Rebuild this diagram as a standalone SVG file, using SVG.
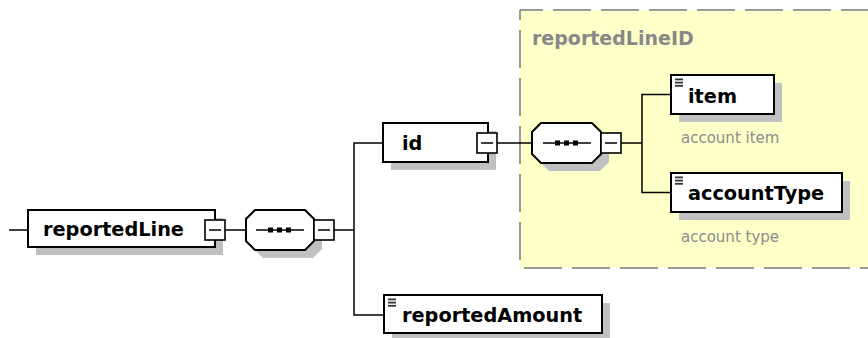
<svg xmlns="http://www.w3.org/2000/svg" width="868" height="338" viewBox="0 0 868 338">
<style>
.box{fill:#fff;stroke:#000;stroke-width:2}
.sh{fill:#c0c0c0}
.conn{stroke:#000;stroke-width:1.5;fill:none}
.name{font-family:"DejaVu Sans",Verdana,sans-serif;font-weight:bold;font-size:19.3px;fill:#000}
.ann{font-family:"DejaVu Sans",Verdana,sans-serif;font-size:15px;fill:#8c8c8c}
.lbl{font-family:"DejaVu Sans",Verdana,sans-serif;font-weight:bold;font-size:19px;fill:#888}
.mb{fill:#fff;stroke:#000;stroke-width:1.6}
.mg{stroke:#000;stroke-width:1.5}
.dot{fill:#000}
.ic{fill:#333}
.dash{stroke:#999;stroke-width:2;stroke-dasharray:38 10;fill:none}
</style>
<defs>
<g id="icon"><rect x="0" y="0" width="8" height="1.8" class="ic"/><rect x="0" y="3.2" width="8" height="1.8" class="ic"/><rect x="0" y="6.4" width="8" height="1.8" class="ic"/></g>
</defs>

<g id="reportedLineID">
<rect x="520" y="10" width="360" height="258" fill="#FFFFC8"/>
<line x1="520" y1="10" x2="880" y2="10" class="dash" stroke-dashoffset="15"/>
<line x1="520" y1="10" x2="520" y2="268" class="dash" stroke-dashoffset="28"/>
<line x1="520" y1="268" x2="880" y2="268" class="dash" stroke-dashoffset="44"/>
<text x="532" y="45" class="lbl">reportedLineID</text>
</g>

<g id="connectors">
<path class="conn" d="M9,230 H28"/>
<path class="conn" d="M225,230 H246"/>
<path class="conn" d="M334,230 H354"/>
<path class="conn" d="M383,143 H354 V315 H384"/>
<path class="conn" d="M497,143 H532"/>
<path class="conn" d="M621,143 H642"/>
<path class="conn" d="M671,94.5 H642 V192.5 H671"/>
</g>

<g id="reportedLine">
<rect x="36" y="218" width="187" height="37" class="sh"/>
<rect x="28" y="210" width="187" height="37" class="box"/>
<text x="43" y="236" class="name">reportedLine</text>
<rect x="205" y="220" width="20" height="20" class="mb"/>
<line x1="209" y1="230" x2="221" y2="230" class="mg"/>
</g>

<g id="sequence1">
<path class="sh" d="M263,218 H313 L322,227 V249 L313,258 H263 L254,249 V227 Z"/>
<path class="box" d="M255,210 H305 L314,219 V241 L305,250 H255 L246,241 V219 Z"/>
<line x1="256" y1="230" x2="304" y2="230" class="mg"/>
<rect x="268" y="227.5" width="5" height="5" class="dot"/>
<rect x="277" y="227.5" width="5" height="5" class="dot"/>
<rect x="286" y="227.5" width="5" height="5" class="dot"/>
<rect x="314" y="220" width="20" height="20" class="mb"/>
<line x1="318" y1="230" x2="330" y2="230" class="mg"/>
</g>

<g id="id">
<rect x="391" y="131" width="105" height="39" class="sh"/>
<rect x="383" y="123" width="105" height="39" class="box"/>
<text x="402" y="150" class="name">id</text>
<rect x="477" y="133" width="20" height="20" class="mb"/>
<line x1="481" y1="143" x2="493" y2="143" class="mg"/>
</g>

<g id="sequence2">
<path class="sh" d="M549,131 H600 L609,140 V162 L600,171 H549 L540,162 V140 Z"/>
<path class="box" d="M541,123 H592 L601,132 V154 L592,163 H541 L532,154 V132 Z"/>
<line x1="543" y1="143" x2="591" y2="143" class="mg"/>
<rect x="555" y="140.5" width="5" height="5" class="dot"/>
<rect x="564" y="140.5" width="5" height="5" class="dot"/>
<rect x="573" y="140.5" width="5" height="5" class="dot"/>
<rect x="601" y="133" width="20" height="20" class="mb"/>
<line x1="605" y1="143" x2="617" y2="143" class="mg"/>
</g>

<g id="item">
<rect x="679" y="83" width="103" height="39" class="sh"/>
<rect x="671" y="75" width="103" height="39" class="box"/>
<use href="#icon" x="675" y="78.5"/>
<text x="688" y="102.5" class="name">item</text>
<text x="681" y="143" class="ann">account item</text>
</g>

<g id="accountType">
<rect x="679" y="181" width="171" height="39" class="sh"/>
<rect x="671" y="173" width="171" height="39" class="box"/>
<use href="#icon" x="675" y="176.5"/>
<text x="688" y="200" class="name">accountType</text>
<text x="681" y="242" class="ann">account type</text>
</g>

<g id="reportedAmount">
<rect x="392" y="303" width="218" height="38" class="sh"/>
<rect x="384" y="295" width="218" height="38" class="box"/>
<use href="#icon" x="388" y="298.5"/>
<text x="402" y="321.5" class="name">reportedAmount</text>
</g>
</svg>
